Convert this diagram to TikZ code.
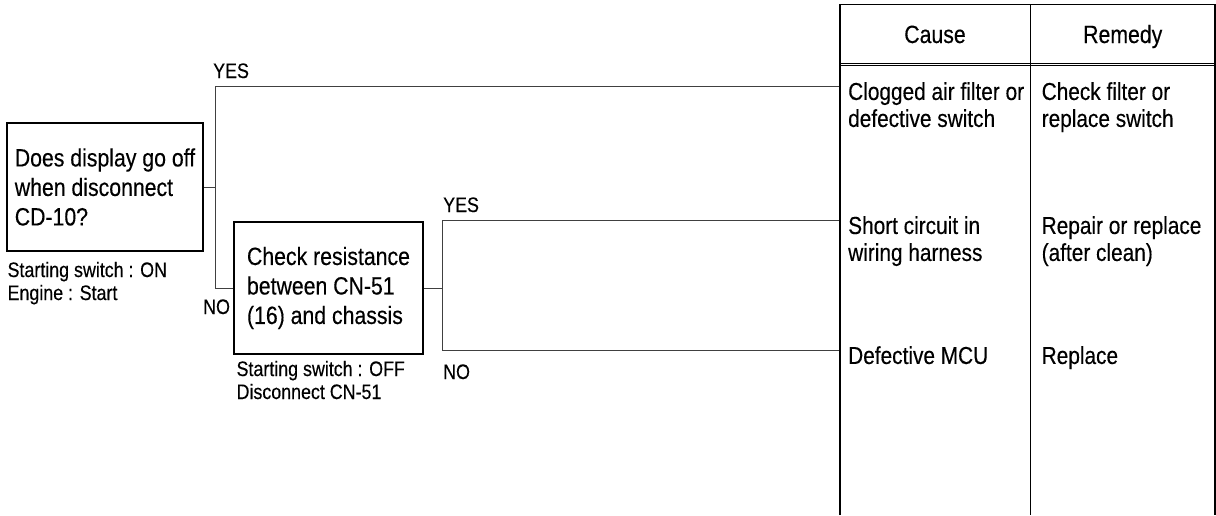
\documentclass[tikz,border=0pt]{standalone}
\usepackage{fontspec}
\setmainfont[FakeStretch=0.85,FakeBold=0.3]{Liberation Sans}
\usepackage{tikz}
\usetikzlibrary{calc}

\begin{document}
\begin{tikzpicture}[x=1pt,y=-1pt,
    qbox/.style={draw, line width=1.2, align=left, inner sep=0pt, font=\fontsize{25}{29.5}\selectfont},
    note/.style={anchor=north west, inner sep=0pt, align=left, font=\fontsize{21}{23}\selectfont},
    tag/.style={anchor=base west, inner sep=0pt, font=\fontsize{21}{23}\selectfont},
    cell/.style={anchor=north west, inner sep=0pt, align=left, font=\fontsize{24.5}{27}\selectfont},
    wire/.style={line width=0.9, black!75},
    rule/.style={line width=1.5}]
\useasboundingbox (0,0) rectangle (1216,515);

\node[qbox, minimum width=196, minimum height=128] (q1) at (105,187) {Does display go off\\when disconnect\\CD-10?};
\node[qbox, minimum width=189, minimum height=132] (q2) at (328.5,288) {Check resistance\\between CN-51\\(16) and chassis};
\node[note] (n1) at ($(q1.south west)+(1,10)$) {Starting switch : ON\\Engine : Start};
\node[note] (n2) at ($(q2.south west)+(3,6)$) {Starting switch : OFF\\Disconnect CN-51};

\coordinate (j1) at (215,187);
\coordinate (j2) at (442,288);
\coordinate (c1) at (840,86);
\coordinate (c2) at (840,220);
\coordinate (c3) at (840,350);

\foreach \i/\j in {q1.east/j1, j1/c1, j1/q2.west, q2.east/j2, j2/c2, j2/c3}
    {\draw[wire] (\i) |- (\j);}

\node[tag] (y1) at (213,78) {YES};
\node[tag] (o1) at (203,314) {NO};
\node[tag] (y2) at (443,212) {YES};
\node[tag] (o2) at (443,379) {NO};

\coordinate (tl) at (840,4.5);
\coordinate (tm) at (1030.5,4.5);
\coordinate (tr) at (1215,4.5);
\draw[rule] (840,515) -- (tl) -- (tr) -- (1215,515);
\draw[rule] (tm) -- (1030.5,515);
\draw[line width=1] (840,63) -- (1215,63);
\draw[line width=1] (840,65.5) -- (1215,65.5);

\node[anchor=base, inner sep=0pt, font=\fontsize{25}{27}\selectfont] (hc) at (935,43) {Cause};
\node[anchor=base, inner sep=0pt, font=\fontsize{25}{27}\selectfont] (hr) at (1122.75,43) {Remedy};

\node[cell] (k1) at ($(c1)+(8,-4)$) {Clogged air filter or\\defective switch};
\node[cell] (k2) at ($(c2)+(8,-4)$) {Short circuit in\\wiring harness};
\node[cell] (k3) at ($(c3)+(8,-4)$) {Defective MCU};
\node[cell] (m1) at ($(k1.north -| tm)+(11,0)$) {Check filter or\\replace switch};
\node[cell] (m2) at ($(k2.north -| tm)+(11,0)$) {Repair or replace\\(after clean)};
\node[cell] (m3) at ($(k3.north -| tm)+(11,0)$) {Replace};
\end{tikzpicture}
\end{document}
